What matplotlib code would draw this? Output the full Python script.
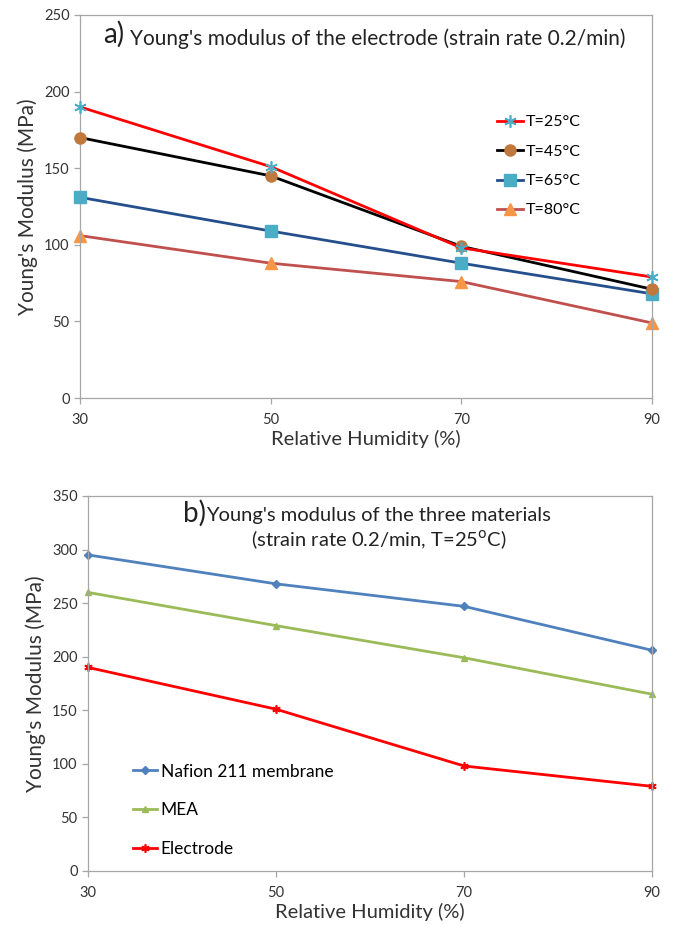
import matplotlib
matplotlib.use("Agg")
import matplotlib.pyplot as plt

plt.rcParams['font.family'] = ['Lato', 'DejaVu Sans']

# Data
humidity = [30, 50, 70, 90]
rh_ticks = ["30", "50", "70", "90"]

# panel a: electrode at several temperatures
e_t25 = [190, 151, 98, 79]
e_t45 = [170, 145, 99, 71]
e_t65 = [131, 109, 88, 68]
e_t80 = [106, 88, 76, 49]

# panel b: three materials at 25 C
nafion = [295, 268, 247, 206]
mea = [260, 229, 199, 165]
electrode = [190, 151, 98, 79]

ASTER = (6, 2, 0)  # excel-like star marker

fig = plt.figure(figsize=(6.74, 9.25), dpi=100)

def style_axes(ax, ymax, step):
    ax.set_xlim(30, 90)
    ax.set_ylim(0, ymax)
    ax.set_xticks(humidity)
    ax.set_xticklabels(rh_ticks)
    ax.set_yticks(range(0, ymax + 1, step))
    for s in ax.spines.values():
        s.set_color('#a6a6a6')
        s.set_linewidth(0.9)
    ax.tick_params(colors='#a6a6a6', labelcolor='#333333', labelsize=10.5,
                   length=4, width=0.9)
    ax.tick_params(axis='x', pad=7)
    ax.set_xlabel("Relative Humidity (%)", fontsize=14.5, color='#333333', labelpad=2)
    ax.set_ylabel("Young's Modulus (MPa)", fontsize=15, color='#333333', labelpad=4)

# ---- panel a ----
ax1 = fig.add_axes([0.1187, 0.5697, 0.8487, 0.4141])
ax1.plot(humidity, e_t25, color='#ff0000', lw=2, marker=ASTER, ms=9,
         mec='#4bacc6', mew=1.2, label='T=25°C', clip_on=False, zorder=5)
ax1.plot(humidity, e_t45, color='#000000', lw=2, marker='o', ms=8,
         mfc='#c0783c', mec='#c0783c', label='T=45°C', clip_on=False, zorder=4)
ax1.plot(humidity, e_t65, color='#254e8c', lw=2, marker='s', ms=8,
         mfc='#4bacc6', mec='#4bacc6', label='T=65°C', clip_on=False, zorder=3)
ax1.plot(humidity, e_t80, color='#c0504d', lw=2, marker='^', ms=8,
         mfc='#f79646', mec='#f79646', label='T=80°C', clip_on=False, zorder=2)
style_axes(ax1, 250, 50)
ax1.legend(loc='upper left', bbox_to_anchor=(0.718, 0.755), frameon=False,
           fontsize=11.5, handlelength=1.65, handletextpad=0.15, labelspacing=0.95,
           borderaxespad=0)
ax1.text(0.04, 0.985, "a)", transform=ax1.transAxes, fontsize=20, va='top', color='#222222')
ax1.text(0.088, 0.965, "Young's modulus of the electrode (strain rate 0.2/min)",
         transform=ax1.transAxes, fontsize=15, va='top', color='#222222')

# ---- panel b ----
ax2 = fig.add_axes([0.1306, 0.0584, 0.8368, 0.4054])
ax2.plot(humidity, nafion, color='#4f81bd', lw=2, marker='D', ms=4,
         mfc='#4f81bd', mec='#4f81bd', label='Nafion 211 membrane', clip_on=False)
ax2.plot(humidity, mea, color='#9bbb59', lw=2, marker='^', ms=5,
         mfc='#9bbb59', mec='#9bbb59', label='MEA', clip_on=False)
ax2.plot(humidity, electrode, color='#ff0000', lw=2, marker=ASTER, ms=6,
         mec='#ff0000', mew=1.2, label='Electrode', clip_on=False)
style_axes(ax2, 350, 50)
ax2.legend(loc='upper left', bbox_to_anchor=(0.067, 0.305), frameon=False,
           fontsize=12.5, handlelength=1.4, handletextpad=0.2, labelspacing=1.3,
           borderaxespad=0)
ax2.text(0.169, 0.99, "b)", transform=ax2.transAxes, fontsize=20, va='top', color='#222222')
ax2.text(0.21, 0.97, "Young's modulus of the three materials",
         transform=ax2.transAxes, fontsize=14.5, va='top', color='#222222')
ax2.text(0.515, 0.915, "(strain rate 0.2/min, T=25$^{\\mathrm{o}}$C)",
         transform=ax2.transAxes, fontsize=14.5, va='top', ha='center', color='#222222')

fig.savefig("out.png", dpi=100)
